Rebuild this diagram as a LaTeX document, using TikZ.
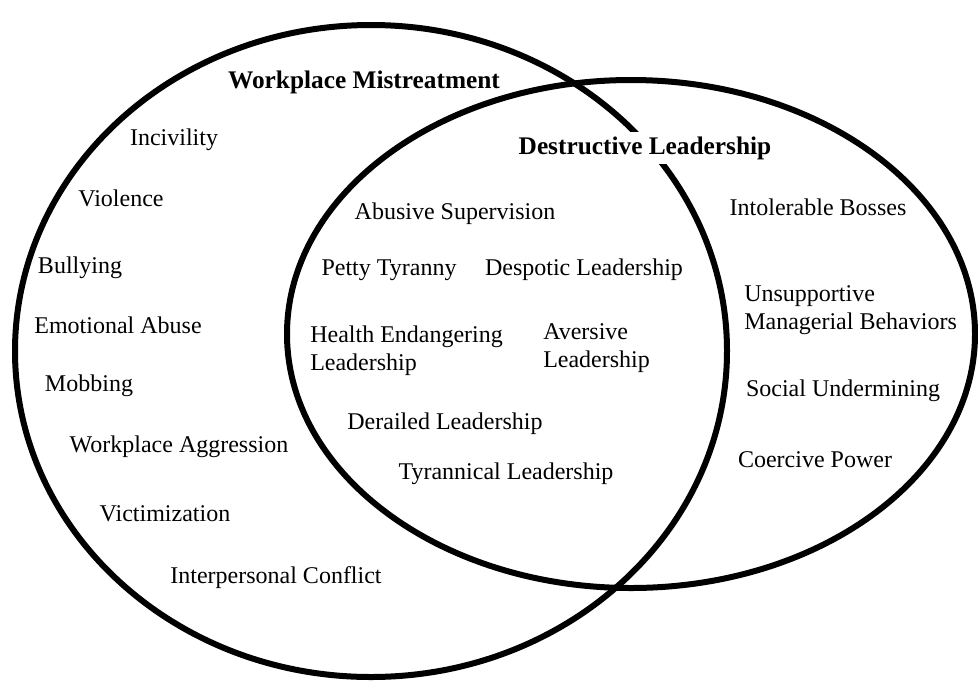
\documentclass[tikz,border=0pt]{standalone}
\usepackage{fontspec}
\setmainfont{Liberation Serif}
\begin{document}
\begin{tikzpicture}[x=0.75pt,y=-0.75pt,
  ring/.style={line width=4.5pt},
  item/.style={font=\fontsize{18}{21}\selectfont, align=left},
  head/.style={font=\fontsize{19}{22}\selectfont\bfseries}]
\useasboundingbox (0,0) rectangle (978,683);
\draw[ring] (371,351) ellipse [x radius=356, y radius=326];
\draw[ring] (631,334) ellipse [x radius=344, y radius=254];
\node[head] (wm) at (364,82){Workplace Mistreatment};
\node[head, fill=white] (dl) at (645,148){Destructive Leadership};
\node[item] (mid0) at (174,140){Incivility};
\node[item] (mid1) at (121,198){Violence};
\node[item] (mid2) at (80,268){Bullying};
\node[item] (mid3) at (118,325){Emotional Abuse};
\node[item] (mid4) at (89,386){Mobbing};
\node[item] (mid5) at (179,447){Workplace Aggression};
\node[item] (mid6) at (165,514){Victimization};
\node[item] (mid7) at (276,578){Interpersonal Conflict};
\node[item] (did0) at (455,214){Abusive Supervision};
\node[item] (did1) at (389,270){Petty Tyranny};
\node[item] (did2) at (584,270){Despotic Leadership};
\node[item, anchor=west, inner sep=0pt] (did3) at (310,351){Health Endangering\\Leadership};
\node[item, anchor=west, inner sep=0pt] (did4) at (543,348){Aversive\\Leadership};
\node[item] (did5) at (445,424){Derailed Leadership};
\node[item] (did6) at (506,474){Tyrannical Leadership};
\node[item] (bid0) at (818,207){Intolerable Bosses};
\node[item, anchor=west, inner sep=0pt] (bid1) at (744,310){Unsupportive\\Managerial Behaviors};
\node[item] (bid2) at (843,391){Social Undermining};
\node[item] (bid3) at (815,460){Coercive Power};

\end{tikzpicture}
\end{document}
